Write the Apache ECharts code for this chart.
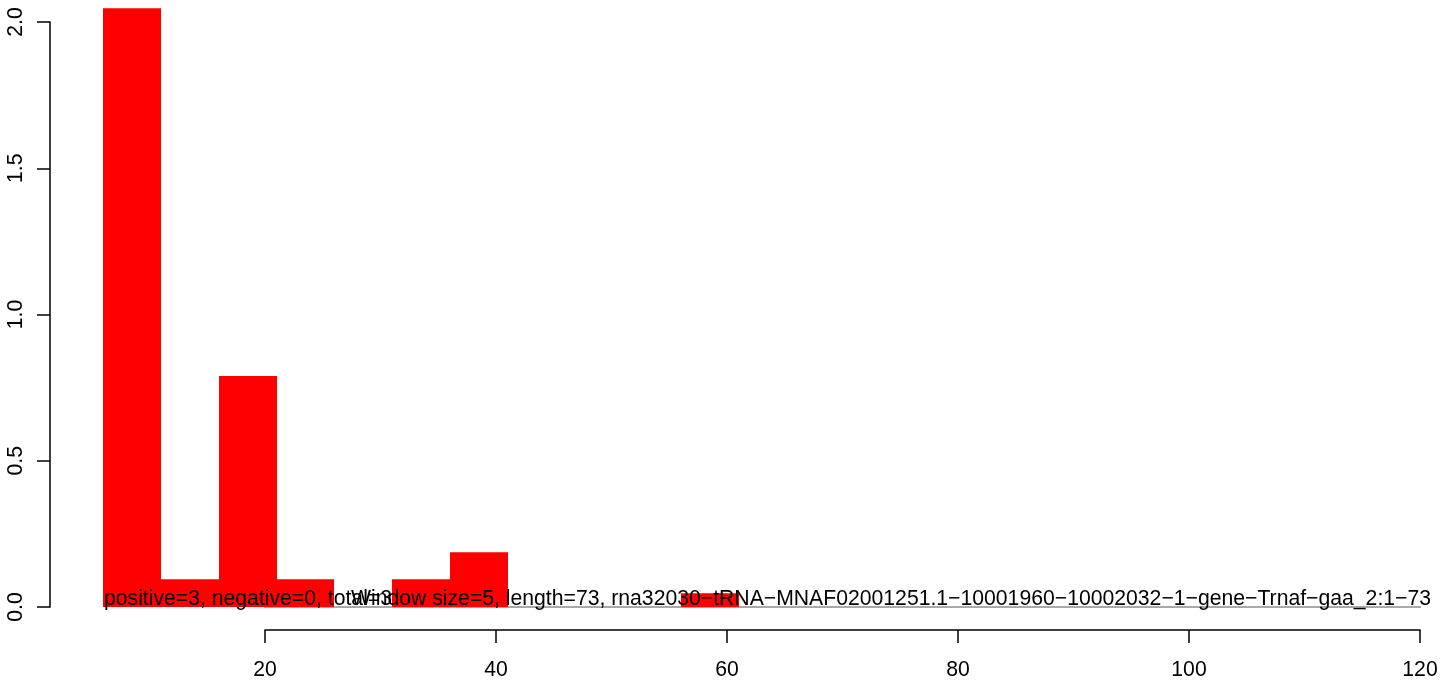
<!DOCTYPE html>
<html>
<head>
<meta charset="utf-8">
<script src="https://cdn.jsdelivr.net/npm/echarts@6/dist/echarts.min.js"></script>
<style>
html,body{margin:0;padding:0;background:#fff;}
#chart{width:1444px;height:681px;}
</style>
</head>
<body>
<div id="chart"></div>
<script>
// Window bins (start, end) and bar heights
const binStarts = [6, 11, 16, 21, 26, 31, 36, 41, 46, 51, 56];
const binEnds   = [11, 16, 21, 26, 31, 36, 41, 46, 51, 56, 61];
const values    = [2.047, 0.095, 0.79, 0.095, 0, 0.095, 0.187, 0, 0, 0, 0.047];
const baselineX = [6, 121];
const xTicks = [20, 40, 60, 80, 100, 120];
const yTicks = [0, 0.5, 1.0, 1.5, 2.0];
const leftText = 'positive=3, negative=0, total=3';
const rightText = 'Window size=5, length=73, rna32030\u2212tRNA\u2212MNAF02001251.1\u221210001960\u221210002032\u22121\u2212gene\u2212Trnaf\u2212gaa_2:1\u221273';

const FONT = '"Liberation Sans", Arial, Helvetica, sans-serif';
const FS = 21.2;

const barData = binStarts.map((s, i) => [s, binEnds[i], values[i]]);
const chart = echarts.init(document.getElementById('chart'), null, {renderer: 'canvas'});

chart.setOption({
  animation: false,
  backgroundColor: '#ffffff',
  grid: {left: 265, right: 24, top: 22, bottom: 74},
  xAxis: {
    type: 'value',
    min: xTicks[0], max: xTicks[xTicks.length - 1], interval: 20,
    offset: 23,
    axisLine: {show: true, onZero: false, lineStyle: {color: '#000', width: 1.5}},
    axisTick: {show: true, length: 13, lineStyle: {color: '#000', width: 1.5}},
    axisLabel: {color: '#000', fontSize: FS, fontFamily: FONT, margin: 30},
    splitLine: {show: false}
  },
  yAxis: {
    type: 'value',
    min: yTicks[0], max: yTicks[yTicks.length - 1], interval: 0.5,
    offset: 215,
    axisLine: {show: true, onZero: false, lineStyle: {color: '#000', width: 1.5}},
    axisTick: {show: true, length: 13, lineStyle: {color: '#000', width: 1.5}},
    axisLabel: {color: '#000', fontSize: FS, fontFamily: FONT, rotate: 90, margin: 23,
      formatter: v => v.toFixed(1)},
    splitLine: {show: false}
  },
  series: [
    {
      type: 'line',
      data: baselineX.map(x => [x, 0]),
      symbol: 'none',
      clip: false,
      z: 1,
      lineStyle: {color: '#555', width: 1},
      silent: true
    },
    {
      type: 'custom',
      clip: false,
      z: 2,
      data: barData,
      renderItem: function (params, api) {
        const p0 = api.coord([api.value(0), 0]);
        const p1 = api.coord([api.value(1), api.value(2)]);
        const x0 = Math.round(p0[0]), x1 = Math.round(p1[0]);
        return {
          type: 'rect',
          shape: {x: x0, y: p1[1], width: x1 - x0, height: p0[1] - p1[1]},
          style: {fill: '#ff0000'}
        };
      }
    }
  ],
  graphic: [
    {
      type: 'text', left: 104, top: 589, z: 100,
      style: {text: leftText, fill: '#000', font: FS + 'px ' + FONT}
    },
    {
      type: 'text', right: 13, top: 589, z: 100,
      style: {text: rightText, fill: '#000', font: FS + 'px ' + FONT}
    }
  ]
});
</script>
</body>
</html>
